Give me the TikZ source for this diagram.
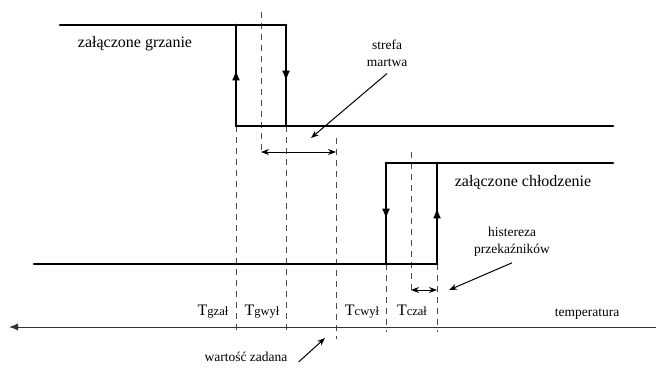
\documentclass[tikz,border=0pt]{standalone}
\usepackage{fontspec}
\setmainfont{Liberation Serif}
\usetikzlibrary{arrows.meta,decorations.markings}
\begin{document}
\begin{tikzpicture}[x=1pt,y=-1pt,
  relay/.style={line width=2.8pt,line cap=round,line join=miter},
  midarrow/.style={relay,postaction={decorate},decoration={markings,
     mark=at position 0.56 with {\arrow{Latex[length=11pt,width=8pt]}}}},
  guide/.style={black!70,line width=1pt,dash pattern=on 6pt off 5pt},
  thin/.style={line width=1pt},
  lbl/.style={inner sep=0pt,font=\fontsize{16}{19}\selectfont},
  slbl/.style={inner sep=0pt,align=center,font=\fontsize{13.5}{17}\selectfont},
  tlbl/.style={inner sep=0pt,anchor=base},
  ptr/.style={thin,-{Stealth[length=8pt,width=6pt]}},
  dbl/.style={thin,{Stealth[length=8pt,width=6pt]}-{Stealth[length=8pt,width=6pt]}}]
\useasboundingbox (0,0) rectangle (656,369);
% corners
\coordinate (H0) at (60,25);
\coordinate (H1) at (236,25);
\coordinate (H2) at (286,25);
\coordinate (H3) at (236,126);
\coordinate (H4) at (286,126);
\coordinate (H5) at (613,126);
\coordinate (C0) at (34,264);
\coordinate (C1) at (386,264);
\coordinate (C2) at (437,264);
\coordinate (C3) at (386,163);
\coordinate (C4) at (437,163);
\coordinate (C5) at (613,163);
% guide ends
\coordinate (g1b) at (236,333);
\coordinate (g2b) at (286,333);
\coordinate (g3t) at (261,12);
\coordinate (g3b) at (261,152);
\coordinate (g4t) at (336,138);
\coordinate (g4b) at (336,339);
\coordinate (g5b) at (386,332);
\coordinate (g6t) at (411,152);
\coordinate (g6b) at (411,290);
\coordinate (g7b) at (437,332);
% axis
\coordinate (axR) at (656,327);
\coordinate (axL) at (9,327);
% dashed guides
\draw[guide] (H3) -- (g1b);
\draw[guide] (H4) -- (g2b);
\draw[guide] (g3t) -- (g3b);
\draw[guide] (g4t) -- (g4b);
\draw[guide] (C1) -- (g5b);
\draw[guide] (g6t) -- (g6b);
\draw[guide] (C2) -- (g7b);
% heating characteristic
\draw[relay] (H0) -- (H2);
\draw[midarrow] (H2) -- (H4);
\draw[midarrow] (H3) -- (H1);
\draw[relay] (H3) -- (H5);
% cooling characteristic
\draw[relay] (C0) -- (C2);
\draw[relay] (C3) -- (C5);
\draw[midarrow] (C3) -- (C1);
\draw[midarrow] (C2) -- (C4);
% axis
\draw[thin,black!80,-{Latex[length=9pt,width=7pt]}] (axR) -- (axL);
% dimension arrows
\draw[dbl] (g3b) -- (g4t |- g3b);
\draw[dbl] (g6b) -- (C2 |- g6b);
% labels
\node[lbl] (grz) at (135,44) {załączone grzanie};
\node[lbl] (chl) at (523,183) {załączone chłodzenie};
\node[slbl] (sm) at (387,53) {strefa\\martwa};
\node[slbl] (hp) at (512,242) {histereza\\przekaźników};
\node[slbl] (temp) at (587,314) {temperatura};
\node[slbl] (wz) at (246,357) {wartość zadana};
\node[tlbl] (tgz) at (213,315) {\fontsize{16}{19}\selectfont T\fontsize{12.5}{15}\selectfont gzał};
\node[tlbl] (tgw) at (262,315) {\fontsize{16}{19}\selectfont T\fontsize{12.5}{15}\selectfont gwył};
\node[tlbl] (tcw) at (362,315) {\fontsize{16}{19}\selectfont T\fontsize{12.5}{15}\selectfont cwył};
\node[tlbl] (tcz) at (412,315) {\fontsize{16}{19}\selectfont T\fontsize{12.5}{15}\selectfont czał};
% pointers
\coordinate (p1) at (311,138);
\coordinate (p2) at (449,290);
\coordinate (p3) at (325,338);
\draw[ptr] (sm.south) ++(0,7) -- (p1);
\draw[ptr] (hp.south) ++(0,6) -- (p2);
\draw[ptr] (wz.east) ++(11,5) -- (p3);
\end{tikzpicture}
\end{document}
